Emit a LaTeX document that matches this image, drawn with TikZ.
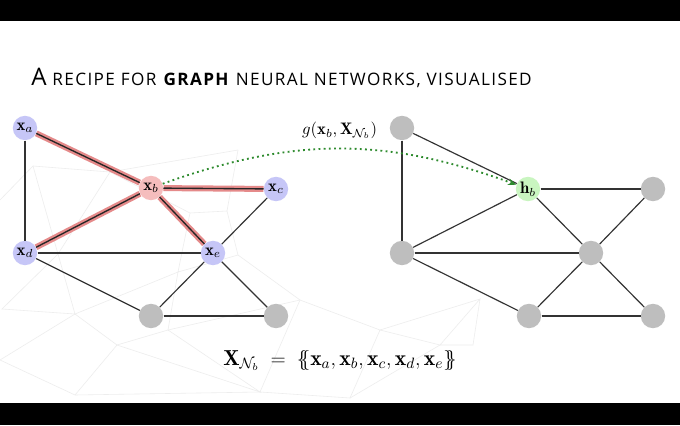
\documentclass[tikz,border=0pt]{standalone}
\usepackage{fontspec}
\usepackage{amsmath}
\usetikzlibrary{arrows.meta}
\newfontfamily\titlefont[LetterSpace=8]{Open Sans}
\definecolor{nblue}{HTML}{C6C6F7}
\definecolor{npink}{HTML}{F5BDBD}
\definecolor{ngreen}{HTML}{C9F5C0}
\definecolor{ngray}{HTML}{BEBEBE}
\definecolor{hlred}{HTML}{E58A8A}
\definecolor{arrgreen}{HTML}{2E8B2E}
\definecolor{edgecol}{HTML}{333333}
\tikzset{
  vert/.style={circle,minimum size=14.6pt,inner sep=0pt,font=\normalsize},
  bluev/.style={vert,fill=nblue},
  pinkv/.style={vert,fill=npink},
  greenv/.style={vert,fill=ngreen},
  grayv/.style={vert,fill=ngray},
  edge/.style={draw=edgecol,line width=0.7pt},
  hlband/.style={draw=hlred,line width=3.6pt},
  hlcore/.style={draw=black!85,line width=0.8pt},
  faint/.style={draw=gray!14,line width=0.35pt},
  msgarrow/.style={draw=arrgreen,line width=1.1pt,dotted,-{Stealth[length=5pt,width=4pt]}},
}
\begin{document}
\begin{tikzpicture}[x=0.6pt,y=-0.6pt]
\useasboundingbox (0,0) rectangle (680,425);
\fill[white] (0,0) rectangle (680,425);
% faint background network
\coordinate (p1) at (33,166);
\coordinate (p2) at (110,172);
\coordinate (p3) at (190,213);
\coordinate (p4) at (227,211);
\coordinate (p5) at (238,255);
\coordinate (p6) at (178,272);
\coordinate (p7) at (58,254);
\coordinate (p8) at (75,314);
\coordinate (p9) at (2,309);
\coordinate (p10) at (117,345);
\coordinate (p11) at (75,395);
\coordinate (p12) at (168,330);
\coordinate (p13) at (480,299);
\coordinate (p14) at (300,300);
\coordinate (p15) at (440,345);
\coordinate (p16) at (350,398);
\coordinate (p17) at (260,392);
\coordinate (p18) at (473,345);
\coordinate (p19) at (0,200);
\coordinate (p20) at (238,150);
\coordinate (p21) at (0,360);
\coordinate (p22) at (380,330);
\draw[faint] (p19)--(p1)--(p2)--(p3)--(p4)--(p5)--(p6)--(p3);
\draw[faint] (p1)--(p7)--(p2);
\draw[faint] (p7)--(p8)--(p9)--(p7);
\draw[faint] (p8)--(p6)--(p12)--(p10)--(p8);
\draw[faint] (p10)--(p11)--(p21)--(p8);
\draw[faint] (p12)--(p17)--(p10);
\draw[faint] (p5)--(p14)--(p12);
\draw[faint] (p14)--(p17)--(p16)--(p22)--(p14);
\draw[faint] (p22)--(p15)--(p16);
\draw[faint] (p22)--(p13)--(p15)--(p18)--(p13);
\draw[faint] (p20)--(p4);
\draw[faint] (p2)--(p20);
\draw[faint] (p11)--(p17);
% black bars
\fill[black] (0,0) rectangle (680,21);
\fill[black] (0,403) rectangle (680,425);
% title
\node[anchor=base west,inner sep=0pt] (title) at (31,85)
  {\titlefont{\fontsize{14.5}{16}\selectfont A}\fontsize{10.3}{12}\selectfont\ RECIPE FOR \textbf{GRAPH} NEURAL NETWORKS, VISUALISED};
% left graph
\node[bluev] (a) at (25,128) {$\mathbf{x}_a$};
\node[pinkv] (b) at (151,188) {$\mathbf{x}_b$};
\node[bluev] (c) at (276,189) {$\mathbf{x}_c$};
\node[bluev] (d) at (25,253) {$\mathbf{x}_d$};
\node[bluev] (e) at (213,253) {$\mathbf{x}_e$};
\node[grayv] (f) at (151,316) {};
\node[grayv] (g) at (276,316) {};
% right graph
\node[grayv] (A) at (402,128) {};
\node[greenv] (B) at (528,189) {$\mathbf{h}_b$};
\node[grayv] (C) at (653,189) {};
\node[grayv] (D) at (402,253) {};
\node[grayv] (E) at (591,253) {};
\node[grayv] (F) at (529,316) {};
\node[grayv] (G) at (653,316) {};
% left edges
\foreach \u/\v in {a/d,c/e,d/e,d/f,e/f,e/g,f/g}{\draw[edge] (\u)--(\v);}
\foreach \u/\v in {a/b,b/c,b/d,b/e}{\draw[hlband] (\u)--(\v);}
\foreach \u/\v in {a/b,b/c,b/d,b/e}{\draw[hlcore] (\u)--(\v);}
% right edges
\foreach \u/\v in {A/D,A/B,B/C,B/D,B/E,C/E,D/E,D/F,E/F,E/G,F/G}{\draw[edge] (\u)--(\v);}
% message arrow
\draw[msgarrow] (b) to[bend left=20] node[above=2pt,text=black] (lab) {$g(\mathbf{x}_b,\mathbf{X}_{\mathcal{N}_b})$} (B);
% formula
\node[anchor=base,inner sep=0pt] (formula) at (340,365)
  {\fontsize{13}{15}\selectfont $\mathbf{X}_{\mathcal{N}_b}\;=\;\{\!\!\{\mathbf{x}_a,\mathbf{x}_b,\mathbf{x}_c,\mathbf{x}_d,\mathbf{x}_e\}\!\!\}$};
\end{tikzpicture}
\end{document}
